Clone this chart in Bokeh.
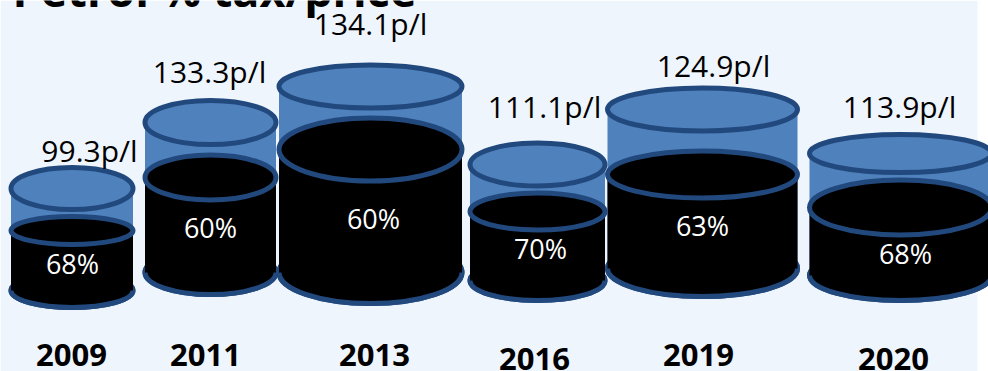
from bokeh.plotting import figure
from bokeh.models import Range1d, ColumnDataSource
from bokeh.core.properties import value
from bokeh.embed import file_html
from bokeh.resources import INLINE

# ---- data ----
years = ["2009", "2011", "2013", "2016", "2019", "2020"]
price_ppl = [99.3, 133.3, 134.1, 111.1, 124.9, 113.9]
tax_pct = [68, 60, 60, 70, 63, 68]
title = "Petrol % tax/price"

# ---- layout (screen-like coordinates, y grows downward) ----
cx = [71.5, 210, 370, 537, 702, 900]
cw = [122, 131, 183, 135, 190, 182]
top_y = [188, 122, 86, 164, 109, 153]
top_h = [42, 44, 43, 43, 43, 38]
black_y = [230, 177, 149, 211, 174, 207]
black_h = [28, 45, 63, 37, 47, 55]
bot_y = [290, 272, 272, 280, 268, 275]
bot_h = [34, 44, 62, 40, 56, 50]
price_x = [89, 209, 370, 544, 713, 899]
price_y = [150, 71, 23, 106, 65, 106]
pct_x = [72, 210, 373, 540, 702, 905]
pct_y = [263, 227, 218, 248, 225, 253]
year_x = [71, 205, 374, 534, 698, 893]
year_y = [354, 354, 354, 358, 354, 358]

BG = "#eef5fc"
BLUE = "#4f81bd"
EDGE = "#22497e"
LW = 5

src = ColumnDataSource(dict(
    cx=cx, cw=cw, top_y=top_y, top_h=top_h, black_y=black_y, black_h=black_h,
    bot_y=bot_y, bot_h=bot_h,
    price_x=price_x, price_y=price_y,
    pct_x=pct_x, pct_y=pct_y, year_x=year_x, year_y=year_y,
    price_lbl=[f"{v:.1f}p/l" for v in price_ppl],
    pct_lbl=[f"{v}%" for v in tax_pct],
    year_lbl=years,
))

p = figure(width=988, height=371, output_backend="svg", toolbar_location=None,
           x_range=Range1d(0, 988), y_range=Range1d(371, 0),
           min_border=0, border_fill_color="white", background_fill_color="white")
p.axis.visible = False
p.grid.visible = False
p.outline_line_color = None

# panel background
p.quad(left=[0], right=[977], top=[0], bottom=[371], fill_color=BG, line_color=None)

# title (top clipped as in the reference)
p.text(x=[12], y=[-11], text=[title], text_font=value("Open Sans"), text_font_style="bold",
       text_font_size="45px", text_color="black", text_baseline="alphabetic", text_align="left")

# blue (total price) cylinders
p.ellipse(x="cx", y="bot_y", width="cw", height="bot_h", source=src,
          fill_color=BLUE, line_color=EDGE, line_width=LW)
p.vbar(x="cx", width="cw", top="top_y", bottom="bot_y", source=src,
       fill_color=BLUE, line_color=None)
p.ellipse(x="cx", y="top_y", width="cw", height="top_h", source=src,
          fill_color=BLUE, line_color=EDGE, line_width=LW)

# black (tax share) cylinders
p.ellipse(x="cx", y="bot_y", width="cw", height="bot_h", source=src,
          fill_color="black", line_color=EDGE, line_width=LW)
p.vbar(x="cx", width="cw", top="black_y", bottom="bot_y", source=src,
       fill_color="black", line_color=None)
p.ellipse(x="cx", y="black_y", width="cw", height="black_h", source=src,
          fill_color="black", line_color=EDGE, line_width=LW)

# labels
p.text(x="price_x", y="price_y", text="price_lbl", source=src,
       text_font=value("Open Sans"), text_font_size="30px", text_color="black",
       text_align="center", text_baseline="alphabetic")
p.text(x="pct_x", y="pct_y", text="pct_lbl", source=src,
       text_font=value("Open Sans"), text_font_size="27px", text_color="white",
       text_align="center", text_baseline="alphabetic")
p.text(x="year_x", y="year_y", text="year_lbl", source=src,
       text_font=value("Open Sans"), text_font_style="bold", text_font_size="31px",
       text_color="black", text_align="center", text_baseline="alphabetic")

open("out.html", "w").write(file_html(p, INLINE))
